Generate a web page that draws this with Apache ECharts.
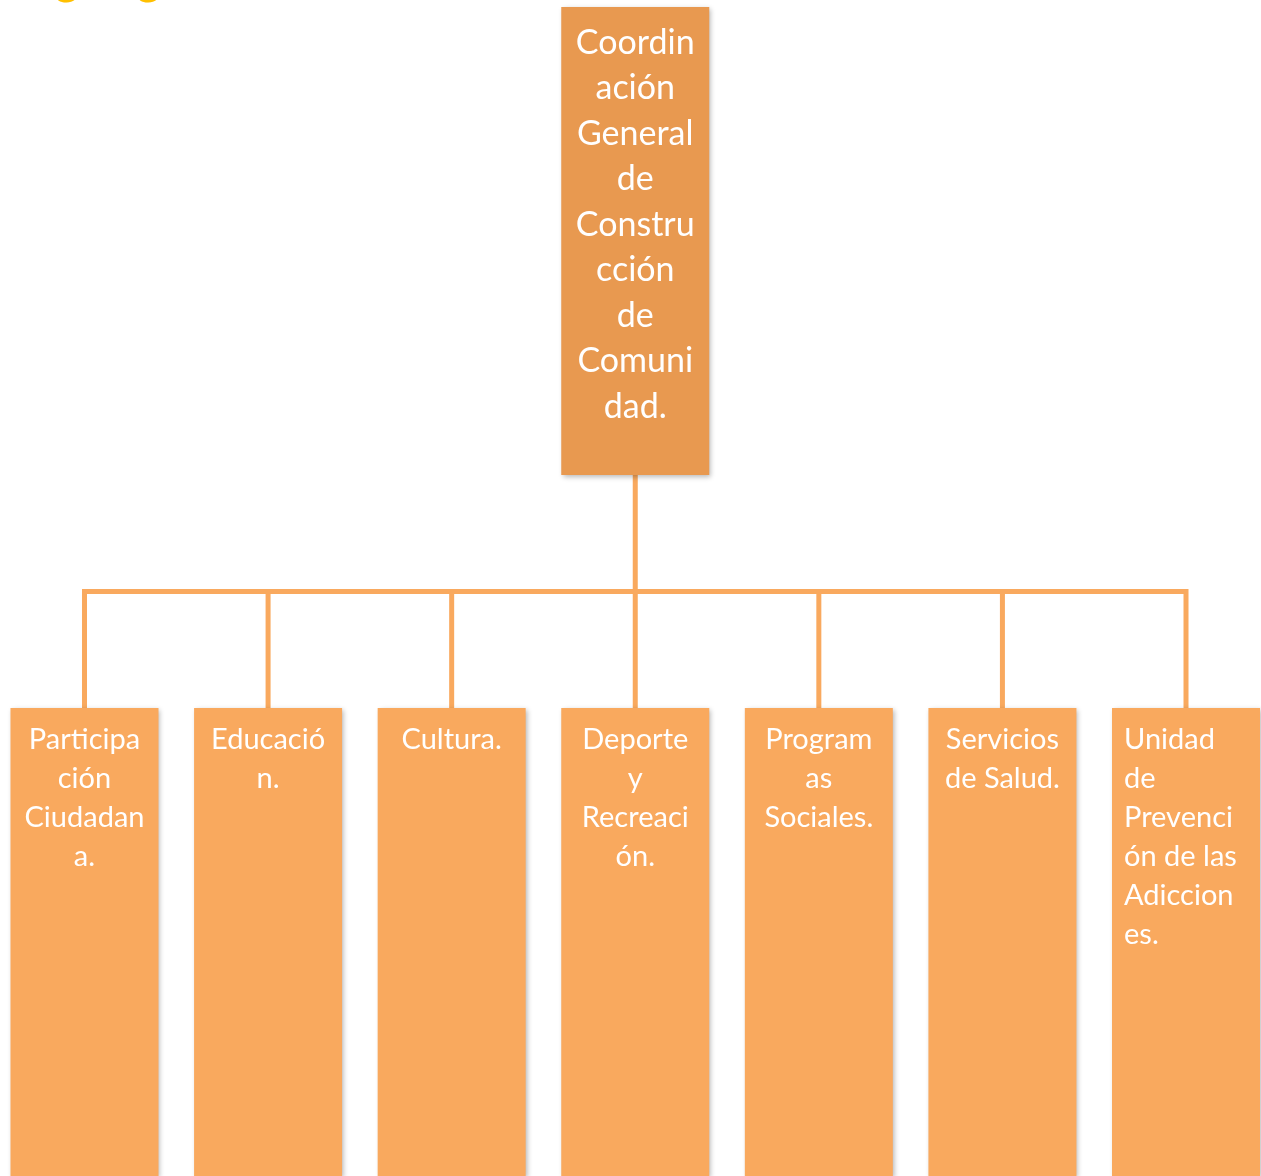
<!DOCTYPE html>
<html><head><meta charset="utf-8">
<script src="https://cdn.jsdelivr.net/npm/echarts@6/dist/echarts.min.js"></script>
<style>html,body{margin:0;padding:0;background:#fff}#c{width:1261px;height:1176px}</style>
</head><body><div id="c"></div><script>
// ---- data ----
const titleText = 'Organigrama';
const rootLabel = 'Coordin\nación\nGeneral\nde\nConstru\ncción\nde\nComuni\ndad.';
const unitLabels = [
  'Participa\nción\nCiudadan\na.',
  'Educació\nn.',
  'Cultura.',
  'Deporte\ny\nRecreaci\nón.',
  'Program\nas\nSociales.',
  'Servicios\nde Salud.',
  'Unidad\nde\nPrevenci\nón de las\nAdiccion\nes.'
];
const unitAlign = ['center', 'center', 'center', 'center', 'center', 'center', 'left'];

// ---- styles ----
const FONT = 'Lato, "Noto Sans", sans-serif';
const rootColor = '#E89950';
const unitColor = '#F9A95E';
const lineColor = '#F9A95E';
const shadow = { shadowBlur: 5, shadowColor: 'rgba(0,0,0,0.28)', shadowOffsetX: 2, shadowOffsetY: 2 };

const treeData = {
  name: rootLabel,
  itemStyle: Object.assign({ color: rootColor, borderWidth: 0 }, shadow),
  label: {
    position: 'insideTop', distance: 13, align: 'center', verticalAlign: 'top',
    fontSize: 34, lineHeight: 45.5, color: '#fff', fontFamily: FONT
  },
  children: unitLabels.map((t, i) => ({
    name: t,
    itemStyle: Object.assign({ color: unitColor, borderWidth: 0 }, shadow),
    label: unitAlign[i] === 'left'
      ? { position: 'insideTopLeft', distance: 12, align: 'left', verticalAlign: 'top' }
      : { position: 'insideTop', distance: 12, align: 'center', verticalAlign: 'top' }
  }))
};

const chart = echarts.init(document.getElementById('c'), null, { renderer: 'canvas' });
chart.setOption({
  animation: false,
  backgroundColor: '#fff',
  graphic: [{
    type: 'text', left: 4, top: -41, silent: true,
    style: { text: titleText, fill: '#FFC000', font: 'bold 44px ' + FONT }
  }],
  series: [{
    type: 'tree',
    orient: 'TB',
    data: [treeData],
    top: 241, height: 701,
    left: -7.3, width: 1285.1,
    roam: false,
    expandAndCollapse: false,
    initialTreeDepth: -1,
    symbol: 'rect',
    symbolSize: [148, 468],
    edgeShape: 'polyline',
    edgeForkPosition: '50%',
    lineStyle: { color: lineColor, width: 5, curveness: 0 },
    label: {
      position: 'insideTop', distance: 12, align: 'center', verticalAlign: 'top',
      fontSize: 29, lineHeight: 39, color: '#fff', fontFamily: FONT
    },
    leaves: {
      label: {
        position: 'insideTop', distance: 12, verticalAlign: 'top',
        fontSize: 29, lineHeight: 39, color: '#fff', fontFamily: FONT
      }
    },
    emphasis: { disabled: true }
  }]
});
</script></body></html>
